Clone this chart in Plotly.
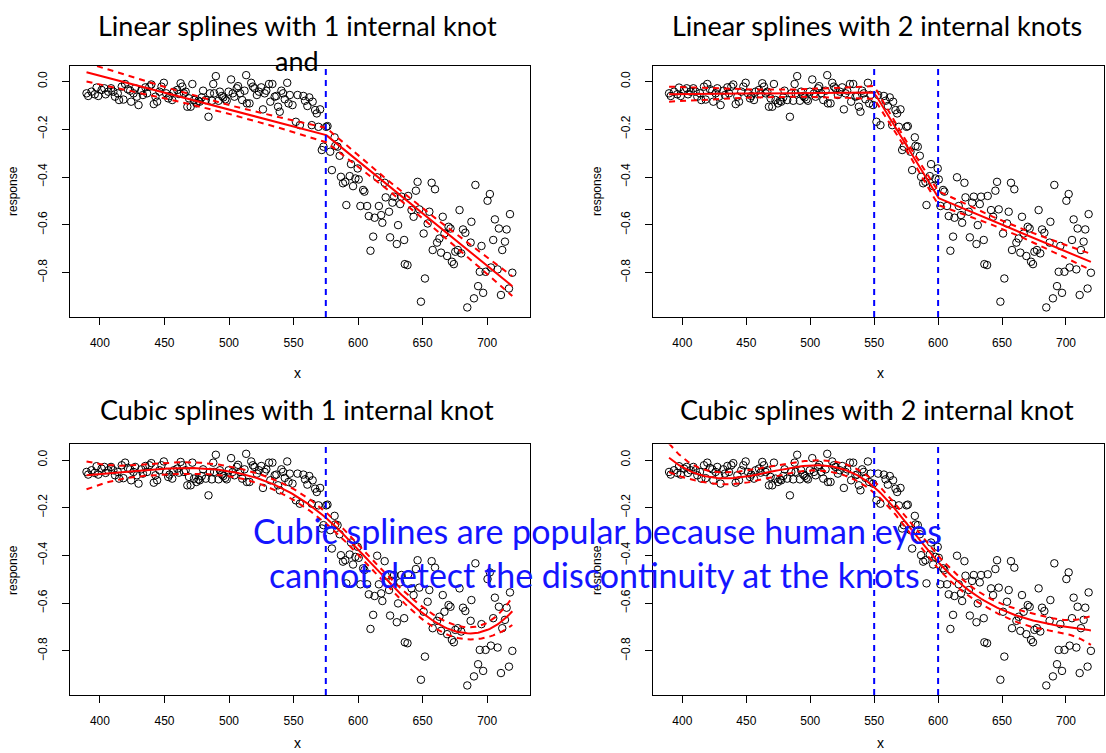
import numpy as np
import plotly.graph_objects as go

# ---------------- data ----------------
x_vals = [389.6, 390.9, 393.5, 396.0, 397.4, 398.7, 401.3, 403.4, 404.4, 406.5,
          408.6, 410.4, 411.7, 413.8, 414.8, 416.9, 418.2, 419.5, 421.6, 423.4,
          424.2, 426.0, 427.3, 428.6, 429.9, 432.0, 433.3, 435.2, 436.5, 438.3,
          439.8, 441.7, 443.0, 444.3, 446.1, 447.7, 449.5, 451.3, 452.9, 453.9,
          456.0, 457.3, 459.9, 461.2, 462.5, 463.8, 465.1, 466.4, 467.7, 469.0,
          470.3, 471.6, 472.9, 474.7, 476.3, 477.3, 478.9, 479.9, 482.0, 484.1,
          485.2, 486.7, 487.8, 488.5, 489.8, 491.9, 492.9, 494.5, 495.6, 497.1,
          498.2, 499.7, 501.6, 502.9, 504.2, 506.0, 507.0, 508.6, 510.2, 512.0,
          513.3, 513.8, 515.9, 517.2, 518.5, 519.8, 521.6, 523.2, 525.0, 526.3,
          527.6, 528.9, 531.0, 532.0, 533.6, 535.4, 536.7, 538.0, 539.3, 540.6,
          541.9, 543.2, 545.1, 546.1, 547.1, 549.2, 551.8, 553.1, 554.9, 557.6,
          558.9, 560.7, 562.2, 564.1, 564.8, 566.7, 568.0, 569.3, 570.6, 571.9,
          573.2, 575.3, 576.3, 578.4, 579.7, 581.8, 582.3, 584.1, 585.7, 586.7,
          588.3, 590.1, 590.9, 593.5, 594.5, 596.1, 597.9, 599.7, 600.5, 601.8,
          603.9, 604.9, 607.0, 608.3, 609.6, 611.7, 612.8, 614.8, 616.1, 617.9,
          618.8, 620.6, 621.4, 624.0, 624.8, 626.6, 627.9, 630.0, 631.0, 632.6,
          633.6, 635.7, 636.2, 638.3, 638.8, 641.4, 643.0, 644.8, 646.1, 647.4,
          648.7, 650.8, 651.8, 653.9, 655.2, 657.0, 657.8, 659.6, 661.2, 663.0,
          664.3, 665.6, 666.9, 669.0, 670.1, 671.6, 672.7, 674.2, 675.3, 677.3,
          678.6, 679.9, 681.3, 683.1, 684.6, 687.2, 687.8, 689.8, 690.9, 693.0,
          694.3, 695.6, 696.9, 698.8, 700.3, 702.1, 702.9, 704.7, 706.0, 708.1,
          709.1, 710.7, 711.7, 713.8, 715.1, 716.9, 717.7, 719.5]
y_vals = [-0.050, -0.061, -0.043, -0.054, -0.026, -0.061, -0.036, -0.029, -0.054, -0.043,
          -0.029, -0.043, -0.064, -0.050, -0.078, -0.022, -0.076, -0.011, -0.033, -0.039,
          -0.085, -0.050, -0.029, -0.064, -0.099, -0.039, -0.057, -0.025, -0.050, -0.022,
          -0.013, -0.095, -0.064, -0.085, -0.043, -0.022, -0.006, -0.050, -0.071, -0.061,
          -0.078, -0.043, -0.036, -0.053, -0.008, -0.022, -0.050, -0.043, -0.106, -0.071,
          -0.106, -0.011, -0.078, -0.092, -0.081, -0.085, -0.067, -0.039, -0.078, -0.148,
          -0.050, -0.081, -0.011, -0.050, 0.022, -0.081, -0.043, -0.061, -0.067, -0.075,
          -0.081, -0.043, 0.008, -0.050, -0.064, -0.029, -0.020, -0.050, -0.078, -0.039,
          0.026, -0.092, -0.092, -0.006, -0.022, -0.029, -0.057, -0.043, -0.025, -0.117,
          -0.050, -0.039, -0.011, -0.085, -0.011, -0.064, -0.061, -0.106, -0.127, -0.039,
          -0.050, -0.075, -0.006, -0.092, -0.057, -0.099, -0.169, -0.057, -0.183, -0.061,
          -0.081, -0.103, -0.067, -0.183, -0.085, -0.120, -0.134, -0.190, -0.117, -0.287,
          -0.273, -0.190, -0.187, -0.294, -0.371, -0.234, -0.270, -0.273, -0.311, -0.399,
          -0.426, -0.420, -0.517, -0.396, -0.346, -0.438, -0.406, -0.364, -0.410, -0.521,
          -0.454, -0.461, -0.521, -0.563, -0.708, -0.649, -0.570, -0.401, -0.521, -0.559,
          -0.591, -0.424, -0.485, -0.545, -0.652, -0.507, -0.482, -0.680, -0.601, -0.513,
          -0.482, -0.663, -0.764, -0.768, -0.479, -0.538, -0.566, -0.457, -0.420, -0.535,
          -0.921, -0.636, -0.824, -0.594, -0.545, -0.424, -0.705, -0.451, -0.674, -0.657,
          -0.716, -0.566, -0.636, -0.730, -0.608, -0.615, -0.754, -0.764, -0.712, -0.705,
          -0.538, -0.719, -0.619, -0.633, -0.945, -0.674, -0.587, -0.907, -0.433, -0.856,
          -0.796, -0.688, -0.884, -0.796, -0.499, -0.471, -0.778, -0.663, -0.577, -0.786,
          -0.615, -0.893, -0.705, -0.670, -0.619, -0.866, -0.555, -0.800]

x_ticks = [400, 450, 500, 550, 600, 650, 700]
y_ticks = [0.0, -0.2, -0.4, -0.6, -0.8]

panel_titles = ["Linear splines with 1 internal knot",
                "Linear splines with 2 internal knots",
                "Cubic splines with 1 internal knot",
                "Cubic splines with 2 internal knot"]
panel_knots = [[575], [550, 600], [575], [550, 600]]
panel_degree = [1, 1, 3, 3]
overlay_lines = ["Cubic splines are popular because human eyes",
                 "cannot detect the discontinuity at the knots"]

# ---------------- spline regression (fit +/- 2 se) ----------------
x = np.array(x_vals)
y = np.array(y_vals)


def design(xx, knots, degree):
    u = (xx - 550.0) / 100.0
    cols = [u ** d for d in range(degree + 1)]
    for k in knots:
        kk = (k - 550.0) / 100.0
        cols.append(np.clip(u - kk, 0, None) ** degree)
    return np.column_stack(cols)


def spline_fit(knots, degree):
    X = design(x, knots, degree)
    beta, *_ = np.linalg.lstsq(X, y, rcond=None)
    res = y - X @ beta
    n, p = X.shape
    s2 = res @ res / (n - p)
    cov = s2 * np.linalg.inv(X.T @ X)
    order = np.argsort(x)
    xs = x[order]
    Xs = design(xs, knots, degree)
    f = Xs @ beta
    se = np.sqrt(np.einsum("ij,jk,ik->i", Xs, cov, Xs))
    return xs, f, se


# ---------------- layout geometry ----------------
W, H = 1106, 753


def px(v):
    return v / W


def py(v):
    return 1 - v / H


x_domains = [[px(70), px(530)], [px(652.7), px(1104)]]
y_domains = [[py(317), py(65.7)], [py(695), py(444.4)]]
x_ranges = [[376.8, 733.2], [376.8, 376.8 + (1104 - 652.7) / 1.2787]]
y_range = [-0.985, 0.0655]

fig = go.Figure()
axis_font = dict(family="Liberation Sans, Arial, sans-serif", size=12, color="black")

for i in range(4):
    r, c = divmod(i, 2)
    xa = "x" if i == 0 else f"x{i+1}"
    ya = "y" if i == 0 else f"y{i+1}"
    xs, f, se = spline_fit(panel_knots[i], panel_degree[i])

    fig.add_trace(go.Scatter(x=x_vals, y=y_vals, mode="markers", xaxis=xa, yaxis=ya,
                             marker=dict(symbol="circle-open", size=7.5, color="black",
                                         line=dict(width=1, color="black")),
                             showlegend=False, hoverinfo="skip"))
    fig.add_trace(go.Scatter(x=xs, y=f, mode="lines", xaxis=xa, yaxis=ya,
                             line=dict(color="red", width=2), showlegend=False))
    for sgn in (1, -1):
        fig.add_trace(go.Scatter(x=xs, y=f + sgn * 2 * se, mode="lines", xaxis=xa, yaxis=ya,
                                 line=dict(color="red", width=2, dash="6px,5px"),
                                 showlegend=False))
    for k in panel_knots[i]:
        fig.add_trace(go.Scatter(x=[k, k], y=y_range, mode="lines", xaxis=xa, yaxis=ya,
                                 line=dict(color="blue", width=2, dash="6px,5px"),
                                 showlegend=False))

    axname = "xaxis" if i == 0 else f"xaxis{i+1}"
    ayname = "yaxis" if i == 0 else f"yaxis{i+1}"
    fig.layout[axname] = dict(domain=x_domains[c], range=x_ranges[c], anchor=ya,
                              tickvals=x_ticks, ticks="outside", ticklen=7, tickwidth=1,
                              tickcolor="black", showgrid=False, zeroline=False,
                              showline=True, linecolor="black", linewidth=1, mirror=True,
                              tickfont=axis_font, ticklabelstandoff=8)
    fig.layout[ayname] = dict(domain=y_domains[r], range=y_range, anchor=xa,
                              tickvals=y_ticks, tickformat=".1f", ticks="outside",
                              ticklen=7, tickwidth=1, tickcolor="black", tickangle=-90,
                              showgrid=False, zeroline=False, showline=True,
                              linecolor="black", linewidth=1, mirror=True,
                              tickfont=axis_font, ticklabelstandoff=10)

annotations = []
title_font = dict(family="Lato, Open Sans, sans-serif", size=27, color="black")
title_pos = [(297, 26), (877, 26), (297, 410), (877, 410)]
for i, (tx, ty) in enumerate(title_pos):
    annotations.append(dict(text=panel_titles[i], x=px(tx), y=py(ty), xref="paper", yref="paper",
                            xanchor="center", yanchor="middle", showarrow=False, font=title_font))
annotations.append(dict(text="and", x=px(297), y=py(60), xref="paper", yref="paper",
                        xanchor="center", yanchor="middle", showarrow=False, font=title_font))

x_label_font = dict(family="Liberation Sans, Arial, sans-serif", size=14, color="black")
for (tx, ty) in [(297, 373), (880, 373), (297, 743), (880, 743)]:
    annotations.append(dict(text="x", x=px(tx), y=py(ty), xref="paper", yref="paper",
                            xanchor="center", yanchor="middle", showarrow=False, font=x_label_font))
for (tx, ty) in [(13, 191), (597, 191), (13, 570), (597, 570)]:
    annotations.append(dict(text="response", x=px(tx), y=py(ty), xref="paper", yref="paper",
                            xanchor="center", yanchor="middle", showarrow=False, textangle=-90,
                            font=axis_font))

blue_font = dict(family="Lato, Open Sans, sans-serif", size=34, color="#1414ff")
annotations.append(dict(text=overlay_lines[0], x=px(597), y=py(530), xref="paper", yref="paper",
                        xanchor="center", yanchor="middle", showarrow=False, font=blue_font))
annotations.append(dict(text=overlay_lines[1], x=px(594), y=py(574), xref="paper", yref="paper",
                        xanchor="center", yanchor="middle", showarrow=False, font=blue_font))

fig.update_layout(width=W, height=H, margin=dict(l=0, r=0, t=0, b=0),
                  paper_bgcolor="white", plot_bgcolor="white",
                  annotations=annotations, showlegend=False)

fig.write_html("out.html")
